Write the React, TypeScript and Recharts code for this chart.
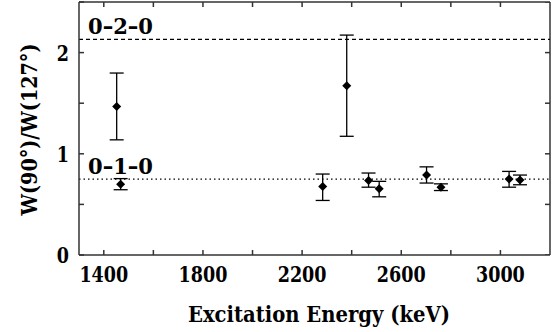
import React from 'react';
import { ScatterChart, Scatter, XAxis, YAxis, ErrorBar, ReferenceLine } from 'recharts';

const energies = [1452, 1468, 2283, 2380, 2468, 2511, 2702, 2760, 3035, 3079];
const ratios = [1.468, 0.70, 0.676, 1.673, 0.735, 0.654, 0.791, 0.67, 0.752, 0.742];
const errLow = [0.33, 0.055, 0.137, 0.5, 0.065, 0.079, 0.08, 0.033, 0.082, 0.048];
const errHigh = [0.33, 0.055, 0.124, 0.5, 0.075, 0.074, 0.08, 0.033, 0.074, 0.048];

const xDomain = [1300, 3200];
const yDomain = [0, 2.5];
const xTicks = [1400, 1600, 1800, 2000, 2200, 2400, 2600, 2800, 3000];
const xLabelTicks = [1400, 1800, 2200, 2600, 3000];
const yTicks = [0, 0.5, 1, 1.5, 2, 2.5];
const yLabelTicks = [0, 1, 2];

const levelValues = [2.13, 0.75];
const levelLabels = ['0–2–0', '0–1–0'];
const levelDashes = ['4 3', '1.5 3'];

const data = energies.map((x, i) => ({ x, y: ratios[i], err: [errLow[i], errHigh[i]] }));
const topTickData = xTicks.map((x) => ({ x, y: yDomain[1] }));
const rightTickData = yTicks.map((y) => ({ x: xDomain[1], y }));

const FONT = "'DejaVu Serif'";
const AXIS = '#333';
const DIGIT_W = 12.2;

const textStyle = { fontFamily: FONT, fontWeight: 700, fontSize: 23, fill: '#000' };

const XTick = (props: any) => {
  const { x, y, payload } = props;
  const v = payload?.value;
  if (!xLabelTicks.includes(v)) return null;
  const s = String(v);
  return (
    <text
      x={x}
      y={y}
      dy="0.71em"
      textAnchor="middle"
      textLength={s.length * DIGIT_W}
      lengthAdjust="spacingAndGlyphs"
      style={textStyle}
    >
      {s}
    </text>
  );
};

const YTick = (props: any) => {
  const { x, y, payload } = props;
  const v = payload?.value;
  if (!yLabelTicks.includes(v)) return null;
  const s = String(v);
  return (
    <text
      x={x}
      y={y}
      dy="0.36em"
      textAnchor="end"
      textLength={s.length * DIGIT_W}
      lengthAdjust="spacingAndGlyphs"
      style={textStyle}
    >
      {s}
    </text>
  );
};

const Diamond = (props: any) => {
  const { cx, cy } = props;
  if (cx == null || cy == null) return null;
  const r = 4.5;
  return (
    <polygon
      points={`${cx},${cy - r} ${cx + r},${cy} ${cx},${cy + r} ${cx - r},${cy}`}
      fill="#000"
    />
  );
};

const TopTick = (props: any) => {
  const { cx, cy } = props;
  if (cx == null || cy == null) return null;
  return <line x1={cx} y1={cy} x2={cx} y2={cy + 5} stroke={AXIS} strokeWidth={1.5} />;
};

const RightTick = (props: any) => {
  const { cx, cy } = props;
  if (cx == null || cy == null) return null;
  return <line x1={cx} y1={cy} x2={cx - 5} y2={cy} stroke={AXIS} strokeWidth={1.5} />;
};

const yLabel = (props: any) => {
  const vb = props.viewBox || {};
  const cx = vb.x + 28.5;
  const cy = vb.y + vb.height / 2 + 1;
  return (
    <text
      x={cx}
      y={cy}
      dy="0.36em"
      transform={`rotate(-90, ${cx}, ${cy})`}
      textAnchor="middle"
      textLength={172}
      lengthAdjust="spacingAndGlyphs"
      style={textStyle}
    >
      W(90°)/W(127°)
    </text>
  );
};

const xLabel = (props: any) => {
  const vb = props.viewBox || {};
  const cx = vb.x + vb.width / 2 + 4.5;
  return (
    <text
      x={cx}
      y={322}
      textAnchor="middle"
      textLength={262}
      lengthAdjust="spacingAndGlyphs"
      style={textStyle}
    >
      Excitation Energy (keV)
    </text>
  );
};

const levelLabel = (text: string) => (props: any) => {
  const vb = props.viewBox || {};
  return (
    <text
      x={vb.x + 9}
      y={vb.y - 5}
      textAnchor="start"
      textLength={65}
      lengthAdjust="spacingAndGlyphs"
      style={textStyle}
    >
      {text}
    </text>
  );
};

export default function App() {
  return (
    <div style={{ position: 'absolute', left: 0, top: 0 }}>
      <ScatterChart width={556} height={332} margin={{ top: 2, right: 6, bottom: 0, left: 0 }}>
        <XAxis
          type="number"
          dataKey="x"
          domain={xDomain}
          ticks={xTicks}
          allowDataOverflow
          height={77}
          tickSize={-5}
          tickMargin={16}
          tick={<XTick />}
          axisLine={{ stroke: AXIS, strokeWidth: 1.5 }}
          tickLine={{ stroke: AXIS, strokeWidth: 1.5 }}
          label={xLabel}
        />
        <YAxis
          type="number"
          dataKey="y"
          domain={yDomain}
          ticks={yTicks}
          allowDataOverflow
          width={79}
          tickSize={-5}
          tickMargin={15}
          tick={<YTick />}
          axisLine={{ stroke: AXIS, strokeWidth: 1.5 }}
          tickLine={{ stroke: AXIS, strokeWidth: 1.5 }}
          label={yLabel}
        />
        <ReferenceLine y={yDomain[1]} stroke={AXIS} strokeWidth={1.5} ifOverflow="visible" />
        <ReferenceLine x={xDomain[1]} stroke={AXIS} strokeWidth={1.5} ifOverflow="visible" />
        {levelValues.map((v, i) => (
          <ReferenceLine
            key={levelLabels[i]}
            y={v}
            stroke="#000"
            strokeWidth={1.2}
            strokeDasharray={levelDashes[i]}
            label={levelLabel(levelLabels[i])}
          />
        ))}
        <Scatter data={topTickData} shape={TopTick} isAnimationActive={false} />
        <Scatter data={rightTickData} shape={RightTick} isAnimationActive={false} />
        <Scatter data={data} shape={Diamond} isAnimationActive={false}>
          <ErrorBar dataKey="err" direction="y" width={7} stroke="#000" strokeWidth={1.3} />
        </Scatter>
      </ScatterChart>
    </div>
  );
}
